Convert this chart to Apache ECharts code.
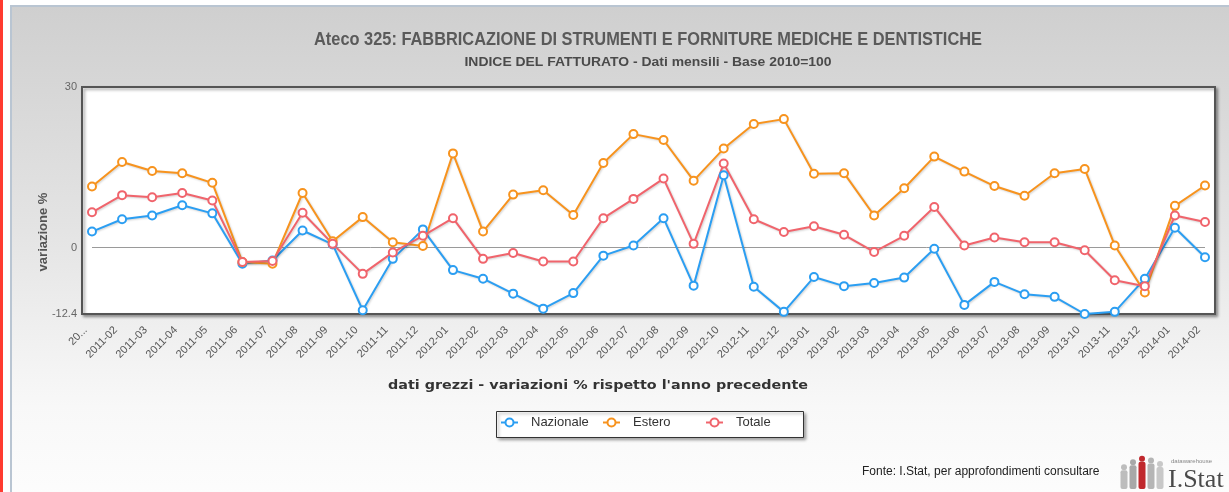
<!DOCTYPE html>
<html><head><meta charset="utf-8">
<script src="https://cdn.jsdelivr.net/npm/echarts@6/dist/echarts.min.js"></script>
<style>html,body{margin:0;padding:0;background:#fff}#c{width:1229px;height:492px}</style>
</head><body><div id="c"></div>
<script>
const categories = ['2011-01','2011-02','2011-03','2011-04','2011-05','2011-06','2011-07','2011-08','2011-09','2011-10','2011-11','2011-12',
  '2012-01','2012-02','2012-03','2012-04','2012-05','2012-06','2012-07','2012-08','2012-09','2012-10','2012-11','2012-12',
  '2013-01','2013-02','2013-03','2013-04','2013-05','2013-06','2013-07','2013-08','2013-09','2013-10','2013-11','2013-12',
  '2014-01','2014-02'];
const nazionale = [3.0,5.3,6.0,7.9,6.4,-3.0,-2.4,3.2,0.6,-11.7,-2.1,3.4,-4.2,-5.8,-8.6,-11.4,-8.5,-1.5,0.4,5.5,-7.1,13.5,-7.3,-12.0,-5.5,-7.2,-6.6,-5.6,-0.2,-10.7,-6.4,-8.7,-9.2,-12.4,-12.0,-5.8,3.7,-1.8];
const estero = [11.4,16.0,14.3,13.9,12.1,-2.7,-3.0,10.2,1.2,5.7,1.0,0.3,17.6,3.0,9.9,10.7,6.1,15.8,21.2,20.1,12.5,18.5,23.1,24.0,13.8,13.9,6.0,11.1,17.0,14.2,11.5,9.7,13.9,14.7,0.4,-8.4,7.8,11.6];
const totale = [6.6,9.8,9.4,10.2,8.8,-2.7,-2.5,6.5,0.7,-4.9,-0.9,2.2,5.5,-2.1,-1.0,-2.6,-2.6,5.5,9.1,12.9,0.7,15.7,5.3,2.9,4.0,2.4,-0.8,2.2,7.6,0.4,1.9,1.0,1.0,-0.5,-6.1,-7.2,6.0,4.8];
const yTicks = [-12.4, 0, 30];
const seriesNames = ['Nazionale', 'Estero', 'Totale'];
const colors = ['#2b9ef2', '#f7931e', '#f0646c'];

const FONT = "'Liberation Sans', Arial, sans-serif";
const WIDE = "'DejaVu Sans', Verdana, sans-serif";

const mctx = document.createElement('canvas').getContext('2d');
function fitScale(text, font, target) {
  mctx.font = font;
  return target / mctx.measureText(text).width;
}

const chart = echarts.init(document.getElementById('c'), null, {renderer: 'canvas'});

function mkSeries(name, data, i) {
  const s = {
    name: name, type: 'line', data: data, clip: false,
    symbol: 'emptyCircle', symbolSize: 8,
    lineStyle: {width: 2, color: colors[i], shadowColor: 'rgba(0,0,0,0.18)', shadowBlur: 2, shadowOffsetX: 1, shadowOffsetY: 1},
    itemStyle: {color: colors[i], borderColor: colors[i], borderWidth: 1.5},
    emphasis: {disabled: true}, z: 3
  };
  if (i === 0) {
    s.markLine = {silent: true, symbol: 'none', label: {show: false},
      lineStyle: {color: '#9a9a9a', width: 1, type: 'solid'}, data: [{yAxis: 0}], z: 1};
  }
  return s;
}

const titleText = 'Ateco 325: FABBRICAZIONE DI STRUMENTI E FORNITURE MEDICHE E DENTISTICHE';
const titleFont = 'bold 18px ' + FONT;
const subText = 'INDICE DEL FATTURATO - Dati mensili - Base 2010=100';
const subFont = 'bold 13px ' + FONT;
const xNameText = "dati grezzi - variazioni % rispetto l'anno precedente";
const xNameFont = 'bold 12px ' + WIDE;

const figures = [];
[[1124,0.55,'#bdbdbd'],[1133,0.7,'#a8a8a8'],[1142,0.8,'#c0282d'],[1151,0.75,'#b5b5b5'],[1160,0.65,'#c8c8c8']].forEach(function(f){
  const h = 34 * f[1];
  figures.push({type:'circle', shape:{cx:f[0], cy:489-h-3, r:3}, style:{fill:f[2]}, z:10});
  figures.push({type:'rect', shape:{x:f[0]-3.5, y:489-h, width:7, height:h, r:2}, style:{fill:f[2]}, z:10});
});

const legendX = [500, 602, 705];

chart.setOption({
  animation: false,
  backgroundColor: '#ffffff',
  color: colors,
  graphic: [
    {type:'rect', shape:{x:0, y:0, width:3, height:492}, style:{fill:'#ff3b30'}, z:-10},
    {type:'rect', shape:{x:11, y:6, width:1230, height:500}, z:-10,
      style:{stroke:'#b9c5d2', lineWidth:2,
        fill:{type:'linear', x:0, y:0, x2:0, y2:1, colorStops:[
          {offset:0, color:'#cfcfcf'}, {offset:0.45, color:'#e4e4e4'}, {offset:0.8, color:'#f8f8f8'}, {offset:1, color:'#fdfdfd'}]}}},
    {type:'rect', shape:{x:82, y:87, width:1133, height:227}, z:-5,
      style:{fill:'#ffffff', stroke:'#555555', lineWidth:2, shadowColor:'rgba(0,0,0,0.35)', shadowBlur:3, shadowOffsetX:2, shadowOffsetY:2}},
    {type:'rect', shape:{x:496.5, y:411.5, width:307, height:26}, z:-5,
      style:{fill:'#ffffff', stroke:'#333333', lineWidth:1, shadowColor:'rgba(0,0,0,0.35)', shadowBlur:3, shadowOffsetX:2, shadowOffsetY:2}},
    {type:'text', x:648, y:40, z:10, scaleX: fitScale(titleText, titleFont, 668), style:{text:titleText,
      font:titleFont, fill:'#5a5a5a', textAlign:'center', textVerticalAlign:'middle'}},
    {type:'text', x:648, y:62, z:10, scaleX: fitScale(subText, subFont, 367), style:{text:subText,
      font:subFont, fill:'#4a4a4a', textAlign:'center', textVerticalAlign:'middle'}},
    {type:'text', x:43, y:232, rotation:Math.PI/2, z:10, style:{text:'variazione %',
      font:'bold 13px ' + FONT, fill:'#555555', textAlign:'center', textVerticalAlign:'middle'}},
    {type:'text', x:598, y:386, z:10, scaleX: fitScale(xNameText, xNameFont, 420), style:{text:xNameText,
      font:xNameFont, fill:'#333333', textAlign:'center', textVerticalAlign:'middle'}},
    {type:'text', x:862, y:472, z:10, style:{text:'Fonte: I.Stat, per approfondimenti consultare',
      font:'12px ' + FONT, fill:'#222222', textAlign:'left', textVerticalAlign:'middle'}},
    {type:'text', x:1171, y:461, z:10, style:{text:'datawarehouse',
      font:'6px ' + FONT, fill:'#888888', textAlign:'left', textVerticalAlign:'middle'}},
    {type:'text', x:1168, y:480, z:10, style:{text:'I.Stat',
      font:'26px "Liberation Serif", "DejaVu Serif", serif', fill:'#4a4a4a', textAlign:'left', textVerticalAlign:'middle'}}
  ].concat(figures),
  legend: seriesNames.map(function (n, i) {
    return {
      data: [n], left: legendX[i], top: 416, padding: 0,
      itemWidth: 17, itemHeight: 10, selectedMode: false,
      textStyle: {fontFamily: FONT, fontSize: 13, color: '#333333', padding: [0, 0, 0, 8]}
    };
  }),
  grid: {left: 92, right: 24, top: 87, bottom: 178, containLabel: false},
  xAxis: {
    type: 'category', data: categories, boundaryGap: false,
    axisLine: {show: false}, axisTick: {show: false}, splitLine: {show: false},
    axisLabel: {rotate: 45, interval: 0, margin: 8, fontFamily: FONT, fontSize: 11, color: '#555555',
      padding: [0, 9, 0, 0],
      formatter: function (v, i) { return i === 0 ? v.slice(0, 2) + '...' : v; }}
  },
  yAxis: {
    type: 'value', min: -12.4, max: 30,
    axisLine: {show: false}, axisTick: {show: false}, splitLine: {show: false},
    axisLabel: {customValues: yTicks, margin: 15, fontFamily: FONT, fontSize: 11, color: '#666666',
      showMinLabel: true, showMaxLabel: true}
  },
  series: [mkSeries(seriesNames[0], nazionale, 0), mkSeries(seriesNames[1], estero, 1), mkSeries(seriesNames[2], totale, 2)]
});
</script>
</body></html>
